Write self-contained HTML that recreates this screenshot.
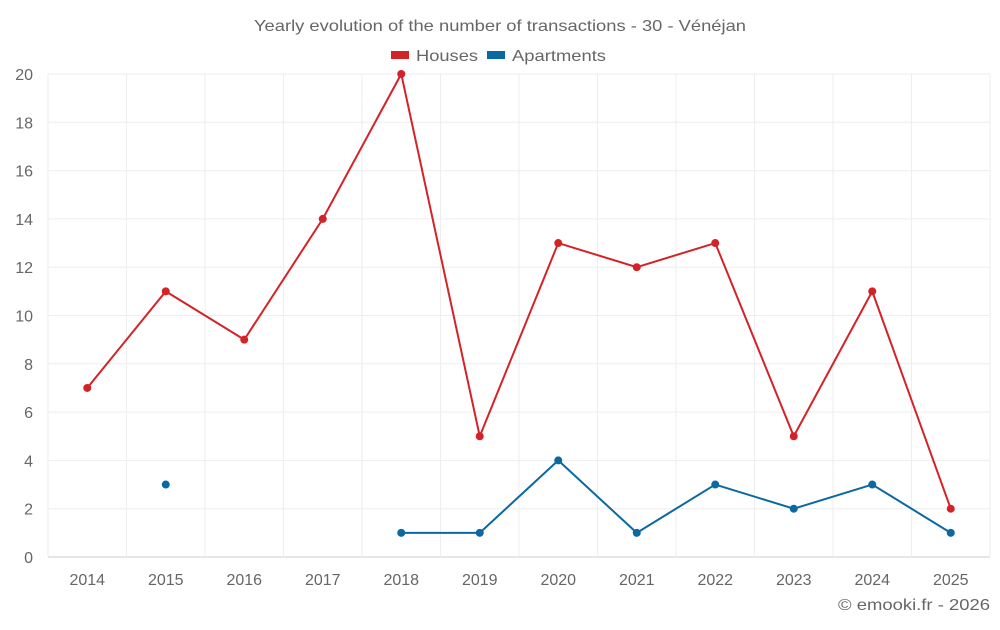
<!DOCTYPE html>
<html><head><meta charset="utf-8"><style>
body{margin:0;background:#fff;font-family:"Liberation Sans",sans-serif}
svg text{font-family:"Liberation Sans",sans-serif;fill:#666}
</style></head><body>
<svg id="c" width="1000" height="625">
<text x="254" y="31" font-size="16" textLength="492" lengthAdjust="spacingAndGlyphs">Yearly evolution of the number of transactions - 30 - Vénéjan</text>
<g>
<g><rect x="391" y="51" width="18" height="8" fill="#d42328"/><text x="416" y="61" font-size="16" textLength="62" lengthAdjust="spacingAndGlyphs">Houses</text></g>
<g><rect x="487" y="51" width="18" height="8" fill="#0a69a2"/><text x="512" y="61" font-size="16" textLength="94" lengthAdjust="spacingAndGlyphs">Apartments</text></g>
</g>
<g id="grid"></g><g id="axes"></g><g id="series"></g>
<text x="838" y="610" font-size="16" textLength="152" lengthAdjust="spacingAndGlyphs">© emooki.fr - 2026</text>
</svg>
<script>
const years=[2014,2015,2016,2017,2018,2019,2020,2021,2022,2023,2024,2025];
const houses=[7,11,9,14,20,5,13,12,13,5,11,2];
const apartments=[null,3,null,null,1,1,4,1,3,2,3,1];
const yTicks=[0,2,4,6,8,10,12,14,16,18,20];
const L=48,R=990,T=74,B=557,yMax=20;
const bw=(R-L)/years.length;
const x=i=>L+bw*(i+0.5);
const y=v=>B-(B-T)*v/yMax;
const ns="http://www.w3.org/2000/svg";
function mk(t,a,p){const e=document.createElementNS(ns,t);for(const k in a)e.setAttribute(k,a[k]);p.appendChild(e);return e;}
const grid=document.getElementById('grid'),axes=document.getElementById('axes'),ser=document.getElementById('series');
yTicks.forEach(v=>{
 const l=mk('line',{x1:L,x2:R,y1:y(v),y2:y(v),stroke:v==0?'#ccc':'#eee'},grid);
 
 
 const t=mk('text',{x:33,y:y(v)+6,'text-anchor':'end','font-size':16},axes);t.textContent=v;
 
 
});
for(let i=0;i<=years.length;i++){
 const l=mk('line',{x1:L+bw*i,x2:L+bw*i,y1:T,y2:B,stroke:'#eee'},grid);
 
 
}
years.forEach((yr,i)=>{
 const t=mk('text',{x:x(i),y:585,'text-anchor':'middle','font-size':16},axes);t.textContent=yr;
 
 
});
function draw(data,color,name){
 let d='',pen=false;
 data.forEach((v,i)=>{if(v==null){pen=false;return;}d+=(pen?'L':'M')+x(i)+' '+y(v);pen=true;});
 const p=mk('path',{d:d,fill:'none',stroke:color,'stroke-width':2},ser);
 
 
 data.forEach((v,i)=>{if(v==null)return;
  const c=mk('circle',{cx:x(i),cy:y(v),r:4,fill:color},ser);
  
  
 });
}
draw(houses,'#d42328','houses');
draw(apartments,'#0a69a2','apartments');
</script>
</body></html>
